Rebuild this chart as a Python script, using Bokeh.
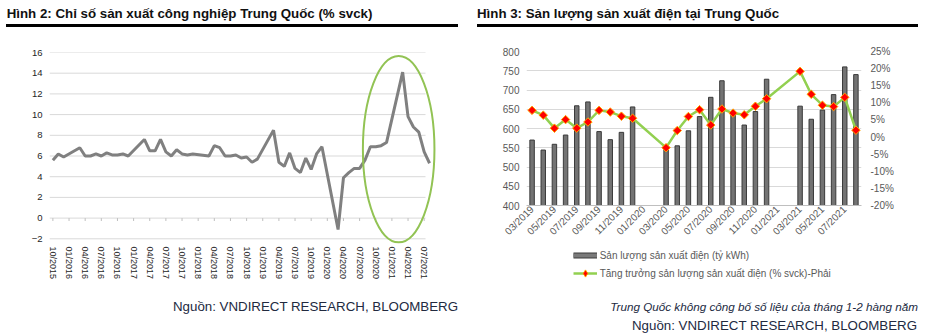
import numpy as np
from bokeh.plotting import figure
from bokeh.models import (Range1d, LinearAxis, FixedTicker, Legend, LegendItem,
                          PrintfTickFormatter, Div)
from bokeh.layouts import row, column
from bokeh.embed import file_html
from bokeh.resources import INLINE

# ---------------- data: left chart (China industrial production, % yoy) -------------
ip_first_month = (2015, 10)
ip_values = [
    5.6, 6.2, 5.9,                                                   # 10-12/2015
    None, None, 6.8, 6.0, 6.0, 6.2, 6.0, 6.3, 6.1, 6.1, 6.2, 6.0,     # 2016
    None, None, 7.6, 6.5, 6.5, 7.6, 6.4, 6.0, 6.6, 6.2, 6.1, 6.2,     # 2017
    None, None, 6.0, 7.0, 6.8, 6.0, 6.0, 6.1, 5.8, 5.9, 5.4, 5.7,     # 2018
    None, None, 8.5, 5.4, 5.0, 6.3, 4.8, 4.4, 5.8, 4.7, 6.2, 6.9,     # 2019
    None, None, -1.1, 3.9, 4.4, 4.8, 4.8, 5.6, 6.9, 6.9, 7.0, 7.3,    # 2020
    None, None, 14.1, 9.8, 8.8, 8.3, 6.4, 5.3,                        # 2021
]
ip_yticks = [-2, 0, 2, 4, 6, 8, 10, 12, 14, 16]
ip_label_step = 3
# highlighted region (green ellipse): centre month index, centre value, width (months), height
highlight = dict(x=64.26, y=6.66, width=13.3, height=18.0)

# ---------------- data: right chart (China power output) ----------------------------
power_months = ["03/2019", "04/2019", "05/2019", "06/2019", "07/2019", "08/2019",
                "09/2019", "10/2019", "11/2019", "12/2019", "01/2020", "02/2020",
                "03/2020", "04/2020", "05/2020", "06/2020", "07/2020", "08/2020",
                "09/2020", "10/2020", "11/2020", "12/2020", "01/2021", "02/2021",
                "03/2021", "04/2021", "05/2021", "06/2021", "07/2021", "08/2021"]
power_output = [570, 544, 559, 583, 659, 669, 592, 571, 590, 656, None, None,
                552, 555, 594, 631, 681, 724, 636, 609, 644, 728, None, None,
                658, 624, 648, 688, 760, 740]
power_growth = [7.8, 6.4, 2.6, 5.1, 2.6, 4.4, 7.8, 7.3, 6.1, 5.5, None, None,
                -3.1, 1.9, 6.0, 8.0, 3.5, 8.2, 7.0, 6.5, 9.0, 11.2, None, None,
                19.2, 12.5, 9.3, 8.9, 11.6, 2.0]
power_left_ticks = [400, 450, 500, 550, 600, 650, 700, 750, 800]
power_right_ticks = [-20, -15, -10, -5, 0, 5, 10, 15, 20, 25]

title_left = "Hình 2: Chỉ số sản xuất công nghiệp Trung Quốc (% svck)"
title_right = "Hình 3: Sản lượng sản xuất điện tại Trung Quốc"
source_text = "Nguồn: VNDIRECT RESEARCH, BLOOMBERG"
note_right = "Trung Quốc không công bố số liệu của tháng 1-2 hàng năm"
legend_bar = "Sản lượng sản xuất điện (tỷ kWh)"
legend_line = "Tăng trưởng sản lượng sản xuất điện (% svck)-Phải"

FONT = "Liberation Sans"
TXT = "#222a3f"
TITLE_H, FOOT_H = 31, 45
FOOT_PAD = 7

BAR_FILL, BAR_LINE = "#737373", "#3a3a3a"
GREEN, MARK_FILL, MARK_LINE = "#92D050", "#FF0000", "#FFA500"

# month labels for the left chart
ip_months = []
yy, mm = ip_first_month
for _ in ip_values:
    ip_months.append(f"{mm:02d}/{yy}")
    mm += 1
    if mm > 12:
        mm, yy = 1, yy + 1
ip_idx = [i for i, v in enumerate(ip_values) if v is not None]
ip_val = [v for v in ip_values if v is not None]
ip_tick_idx = list(range(0, len(ip_values), ip_label_step))


def title_div(text, width, rule_left, text_pad, rule_width):
    html = (f'<div style="margin:0 0 0 {rule_left}px;padding:0 0 0 {text_pad}px;'
            f'width:{rule_width - text_pad}px;height:27px;line-height:27px;'
            f'border-bottom:3px solid #000000;'
            f'font-family:\'{FONT}\';font-size:13.3px;font-weight:bold;color:#111111;'
            f'white-space:nowrap;">{text}</div>')
    return Div(text=html, width=width, height=TITLE_H, margin=0)


def foot_div(lines, width, pad_right):
    inner = "".join(
        f'<div style="margin:0;height:19px;line-height:19px;text-align:right;'
        f'width:{width - pad_right[i]}px;'
        f'font-family:\'{FONT}\';font-size:{sz};'
        f'font-style:{st};color:{TXT};white-space:nowrap;">{t}</div>'
        for i, (t, sz, st) in enumerate(lines))
    html = f'<div style="margin:0;padding-top:{FOOT_PAD}px;width:{width}px;">{inner}</div>'
    return Div(text=html, width=width, height=FOOT_H, margin=0)


def plain_axis(ax, size, color, standoff):
    ax.axis_line_color = None
    ax.major_tick_line_color = None
    ax.minor_tick_line_color = None
    ax.major_tick_out = 0
    ax.major_tick_in = 0
    ax.minor_tick_out = 0
    ax.minor_tick_in = 0
    ax.major_label_standoff = standoff
    ax.major_label_text_font = FONT
    ax.major_label_text_font_size = size
    ax.major_label_text_color = color


# ================= LEFT FIGURE =================
FIG_H = 335 - TITLE_H - FOOT_H
LB, LR = 49, 34
LT = 52 - TITLE_H
LBOT = (TITLE_H + FIG_H) - 244
x0_l, x1_l = -0.63, 71.29
p1 = figure(width=470, height=FIG_H, x_range=Range1d(x0_l, x1_l), y_range=Range1d(-2.55, 16),
            output_backend="svg", toolbar_location=None,
            min_border_left=LB, min_border_right=LR, min_border_top=LT, min_border_bottom=LBOT)
p1.outline_line_color = None
p1.grid.visible = False
p1.background_fill_color = "white"

grid_end = len(ip_values) - 1 - 0.75
p1.segment(x0=[x0_l] * len(ip_yticks), x1=[grid_end] * len(ip_yticks),
           y0=ip_yticks, y1=ip_yticks, line_color="#D9D9D9", line_width=1)
p1.segment(x0=ip_tick_idx, x1=ip_tick_idx, y0=[0] * len(ip_tick_idx),
           y1=[-0.28] * len(ip_tick_idx), line_color="#BFBFBF", line_width=1)
p1.line(ip_idx, ip_val, line_color="#808080", line_width=3)
p1.ellipse(x=[highlight["x"]], y=[highlight["y"]], width=[highlight["width"]],
           height=[highlight["height"]], fill_color=None, line_color="#92C354", line_width=2)

ya = p1.yaxis[0]
ya.ticker = FixedTicker(ticks=ip_yticks)
plain_axis(ya, "9.5px", "#262626", 7)

xa = p1.xaxis[0]
xa.ticker = FixedTicker(ticks=ip_tick_idx)
xa.major_label_overrides = {i: ip_months[i] for i in ip_tick_idx}
xa.major_label_orientation = "vertical"
plain_axis(xa, "9px", "#262626", 2)

# ================= RIGHT FIGURE =================
LEG_H = 45
P2_H = 335 - TITLE_H - FOOT_H - LEG_H
RB, RR = 56, 65
RT = 51 - TITLE_H
RBOT = (TITLE_H + P2_H) - 205
p2 = figure(width=456, height=P2_H, x_range=Range1d(-0.5, len(power_months) - 0.5),
            y_range=Range1d(power_left_ticks[0], power_left_ticks[-1]),
            output_backend="svg", toolbar_location=None,
            min_border_left=RB, min_border_right=RR, min_border_top=RT, min_border_bottom=RBOT)
p2.outline_line_color = None
p2.background_fill_color = "white"
p2.extra_y_ranges = {"pct": Range1d(power_right_ticks[0], power_right_ticks[-1])}
p2.xgrid.visible = False
p2.ygrid.ticker = FixedTicker(ticks=power_left_ticks)
p2.ygrid.grid_line_color = "#D9D9D9"

bar_x = [i for i, v in enumerate(power_output) if v is not None]
bar_top = [v for v in power_output if v is not None]
gr_x = [i for i, v in enumerate(power_growth) if v is not None]
gr_y = [v for v in power_growth if v is not None]

p2.vbar(x=bar_x, top=bar_top, bottom=power_left_ticks[0], width=0.4,
        fill_color=BAR_FILL, line_color=BAR_LINE, line_width=1)
p2.line(gr_x, gr_y, y_range_name="pct", line_color=GREEN, line_width=2.5)
p2.scatter(gr_x, gr_y, y_range_name="pct", marker="square", angle=np.pi / 4, size=6,
           fill_color=MARK_FILL, line_color=MARK_LINE, line_width=1)

ra = LinearAxis(y_range_name="pct", ticker=FixedTicker(ticks=power_right_ticks),
                formatter=PrintfTickFormatter(format="%d%%"))
p2.add_layout(ra, "right")
p2.yaxis[0].ticker = FixedTicker(ticks=power_left_ticks)
plain_axis(p2.yaxis[0], "10px", "#595959", 7)
plain_axis(ra, "10px", "#595959", 9)

xb = p2.xaxis[0]
xb.ticker = FixedTicker(ticks=list(range(0, len(power_months), 2)))
xb.major_label_overrides = {i: power_months[i] for i in range(0, len(power_months), 2)}
xb.major_label_orientation = np.pi / 4
plain_axis(xb, "10px", "#595959", 2)
xb.axis_line_color = "#BFBFBF"

# ----- legend strip (own small figure; proxies are never inside its view) -----
p3 = figure(width=456, height=LEG_H, x_range=Range1d(0, 1), y_range=Range1d(0, 1),
            output_backend="svg", toolbar_location=None,
            x_axis_location=None, y_axis_location=None,
            min_border_left=RB, min_border_right=RR, min_border_top=0, min_border_bottom=0)
p3.outline_line_color = None
p3.grid.visible = False
nan = [float("nan")]
leg_bar_o = p3.line(x=nan, y=nan, line_color=BAR_LINE, line_width=6)
leg_bar_i = p3.line(x=nan, y=nan, line_color="#7a7a7a", line_width=4)
leg_line = p3.line(x=nan, y=nan, line_color=GREEN, line_width=2.5)
leg_pts = p3.scatter(x=nan, y=nan, marker="diamond", size=6,
                     fill_color=MARK_FILL, line_color=MARK_LINE, line_width=1)
legend = Legend(items=[LegendItem(label=legend_bar, renderers=[leg_bar_o, leg_bar_i]),
                       LegendItem(label=legend_line, renderers=[leg_line, leg_pts])],
                location=(572.7 - 470 - RB, 8), glyph_width=24, glyph_height=18,
                label_height=18, label_standoff=3, spacing=0, padding=0, margin=0,
                border_line_color=None, background_fill_alpha=0,
                label_text_font=FONT, label_text_font_size="10px", label_text_color="#595959")
p3.add_layout(legend)

left_col = column(
    title_div(title_left, 470, 6, 0.7, 453),
    p1,
    foot_div([(source_text, "13.3px", "normal")], 470, [12]),
    spacing=0)
right_col = column(
    title_div(title_right, 456, 6.7, 0.3, 441.3),
    p2,
    p3,
    foot_div([(note_right, "11.7px", "italic"), (source_text, "13.3px", "normal")], 456, [8, 9]),
    spacing=0)

layout = row(left_col, right_col, spacing=0)
open("out.html", "w").write(file_html(layout, INLINE))
